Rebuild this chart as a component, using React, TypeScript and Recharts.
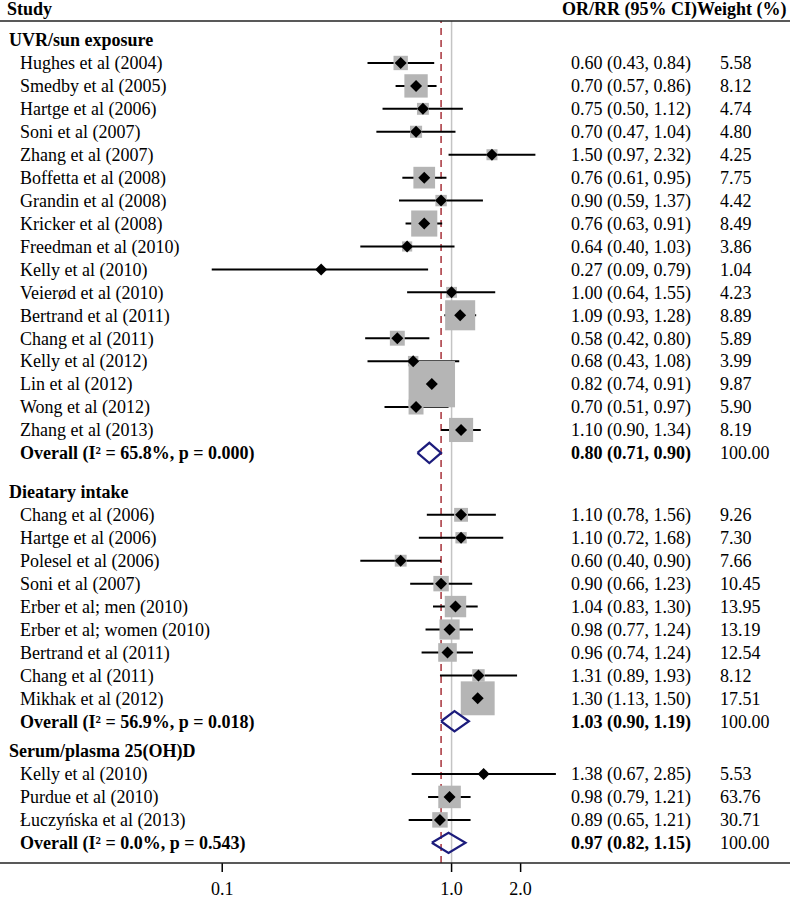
import React from "react";
import { ScatterChart, Scatter, XAxis, YAxis, ErrorBar, ReferenceLine } from "recharts";

// ---- data ----
const groupTitles = ["UVR/sun exposure", "Dieatary intake", "Serum/plasma 25(OH)D"];

const uvrStudies = [
  "Hughes et al (2004)",
  "Smedby et al (2005)",
  "Hartge et al (2006)",
  "Soni et al (2007)",
  "Zhang et al (2007)",
  "Boffetta et al (2008)",
  "Grandin et al (2008)",
  "Kricker et al (2008)",
  "Freedman et al (2010)",
  "Kelly et al (2010)",
  "Veierød et al (2010)",
  "Bertrand et al (2011)",
  "Chang et al (2011)",
  "Kelly et al (2012)",
  "Lin et al (2012)",
  "Wong et al (2012)",
  "Zhang et al (2013)",
];
const uvrOR = [0.6, 0.7, 0.75, 0.7, 1.5, 0.76, 0.9, 0.76, 0.64, 0.27, 1.0, 1.09, 0.58, 0.68, 0.82, 0.7, 1.1];
const uvrLow = [0.43, 0.57, 0.5, 0.47, 0.97, 0.61, 0.59, 0.63, 0.4, 0.09, 0.64, 0.93, 0.42, 0.43, 0.74, 0.51, 0.9];
const uvrHigh = [0.84, 0.86, 1.12, 1.04, 2.32, 0.95, 1.37, 0.91, 1.03, 0.79, 1.55, 1.28, 0.8, 1.08, 0.91, 0.97, 1.34];
const uvrWeight = [5.58, 8.12, 4.74, 4.8, 4.25, 7.75, 4.42, 8.49, 3.86, 1.04, 4.23, 8.89, 5.89, 3.99, 9.87, 5.9, 8.19];

const dietStudies = [
  "Chang et al (2006)",
  "Hartge et al (2006)",
  "Polesel et al (2006)",
  "Soni et al (2007)",
  "Erber et al; men (2010)",
  "Erber et al; women (2010)",
  "Bertrand et al (2011)",
  "Chang et al (2011)",
  "Mikhak et al (2012)",
];
const dietOR = [1.1, 1.1, 0.6, 0.9, 1.04, 0.98, 0.96, 1.31, 1.3];
const dietLow = [0.78, 0.72, 0.4, 0.66, 0.83, 0.77, 0.74, 0.89, 1.13];
const dietHigh = [1.56, 1.68, 0.9, 1.23, 1.3, 1.24, 1.24, 1.93, 1.5];
const dietWeight = [9.26, 7.3, 7.66, 10.45, 13.95, 13.19, 12.54, 8.12, 17.51];

const serumStudies = ["Kelly et al (2010)", "Purdue et al (2010)", "Łuczyńska et al (2013)"];
const serumOR = [1.38, 0.98, 0.89];
const serumLow = [0.67, 0.79, 0.65];
const serumHigh = [2.85, 1.21, 1.21];
const serumWeight = [5.53, 63.76, 30.71];

const overallLabels = [
  "Overall (I² = 65.8%, p = 0.000)",
  "Overall (I² = 56.9%, p = 0.018)",
  "Overall (I² = 0.0%, p = 0.543)",
];
const overallOR = [0.8, 1.03, 0.97];
const overallLow = [0.71, 0.9, 0.82];
const overallHigh = [0.9, 1.19, 1.15];
const overallWeight = [100, 100, 100];

const xTicks = [0.1, 1, 2];
const pooledEffect = 0.9;
const nullEffect = 1;

// ---- layout ----
const FONT = '"Liberation Serif", "Times New Roman", serif';
const FS = 18;
const GROUP_GAP = [0, 1.7, 1.3];
const Y_DOMAIN: [number, number] = [-0.83, 35.88];
const BOX_SCALE = 2.45;
const DIAMOND_H = 0.44;
const NAVY = "#1c1c7c";

type Row = {
  kind: "header" | "study" | "overall";
  label: string;
  pos: number;
  or?: number;
  lo?: number;
  hi?: number;
  weight?: number;
};

const groups = [
  { names: uvrStudies, or: uvrOR, lo: uvrLow, hi: uvrHigh, w: uvrWeight },
  { names: dietStudies, or: dietOR, lo: dietLow, hi: dietHigh, w: dietWeight },
  { names: serumStudies, or: serumOR, lo: serumLow, hi: serumHigh, w: serumWeight },
];

const rows: Row[] = [];
let cursor = 0;
groups.forEach((g, gi) => {
  cursor += GROUP_GAP[gi];
  rows.push({ kind: "header", label: groupTitles[gi], pos: cursor });
  g.names.forEach((name, i) => {
    cursor += 1;
    rows.push({ kind: "study", label: name, pos: cursor, or: g.or[i], lo: g.lo[i], hi: g.hi[i], weight: g.w[i] });
  });
  cursor += 1;
  rows.push({
    kind: "overall",
    label: overallLabels[gi],
    pos: cursor,
    or: overallOR[gi],
    lo: overallLow[gi],
    hi: overallHigh[gi],
    weight: overallWeight[gi],
  });
});

const rowTicks = rows.map((r) => r.pos);
const findRow = (v: number) => rows.find((r) => Math.abs(r.pos - v) < 1e-6);

const studyPoints = rows
  .filter((r) => r.kind === "study")
  .map((r) => ({
    x: r.or!,
    y: r.pos,
    err: [r.or! - r.lo!, r.hi! - r.or!],
    box: (BOX_SCALE * 3.92) / Math.log(r.hi! / r.lo!),
  }));

const overallDiamonds = rows
  .filter((r) => r.kind === "overall")
  .map((r) => [
    { x: r.lo!, y: r.pos },
    { x: r.or!, y: r.pos - DIAMOND_H },
    { x: r.hi!, y: r.pos },
    { x: r.or!, y: r.pos + DIAMOND_H },
    { x: r.lo!, y: r.pos },
  ]);

const fmt = (v: number) => v.toFixed(2);

const LeftTick = (props: any) => {
  const row = findRow(props.payload?.value);
  if (!row) return <g />;
  return (
    <text
      x={row.kind === "header" ? 9 : 20}
      y={props.y}
      dy="0.35em"
      fontFamily={FONT}
      fontSize={FS}
      fontWeight={row.kind === "study" ? 400 : 700}
      fill="#000"
    >
      {row.label}
    </text>
  );
};

const RightTick = (props: any) => {
  const row = findRow(props.payload?.value);
  if (!row || row.kind === "header") return <g />;
  return (
    <g>
      <text
        x={571}
        y={props.y}
        dy="0.35em"
        fontFamily={FONT}
        fontSize={FS}
        fontWeight={row.kind === "overall" ? 700 : 400}
        fill="#000"
      >
        {`${fmt(row.or!)} (${fmt(row.lo!)}, ${fmt(row.hi!)})`}
      </text>
      <text x={720} y={props.y} dy="0.35em" fontFamily={FONT} fontSize={FS} fill="#000">
        {fmt(row.weight!)}
      </text>
    </g>
  );
};

const BoxShape = (props: any) => {
  const s = props.payload.box;
  return <rect x={props.cx - s / 2} y={props.cy - s / 2} width={s} height={s} fill="#b5b5b5" />;
};

const PointShape = (props: any) => {
  const { cx, cy } = props;
  const h = 6;
  return <polygon points={`${cx - h},${cy} ${cx},${cy - h} ${cx + h},${cy} ${cx},${cy + h}`} fill="#000" />;
};

const Nothing = () => <g />;

export default function App() {
  return (
    <div style={{ position: "absolute", left: 0, top: 0, width: 800, height: 899, background: "#fff" }}>
      <ScatterChart width={800} height={899} margin={{ top: 21, right: 0, bottom: 0, left: 0 }}>
        <XAxis
          dataKey="x"
          type="number"
          scale="log"
          domain={[0.08, 2.97]}
          allowDataOverflow
          ticks={xTicks}
          tickFormatter={(v: number) => v.toFixed(1)}
          axisLine={false}
          tickLine={{ stroke: "#000", strokeWidth: 1.5 }}
          tickSize={9}
          tickMargin={10}
          height={36}
          tick={{ fill: "#000", fontSize: FS, fontFamily: FONT }}
        />
        <YAxis
          yAxisId="left"
          dataKey="y"
          type="number"
          domain={Y_DOMAIN}
          reversed
          allowDataOverflow
          ticks={rowTicks}
          interval={0}
          width={200}
          axisLine={false}
          tickLine={false}
          tick={<LeftTick />}
        />
        <YAxis
          yAxisId="right"
          orientation="right"
          dataKey="y"
          type="number"
          domain={Y_DOMAIN}
          reversed
          allowDataOverflow
          ticks={rowTicks}
          interval={0}
          width={240}
          axisLine={false}
          tickLine={false}
          tick={<RightTick />}
        />
        <ReferenceLine yAxisId="left" x={nullEffect} stroke="#c4c4c4" strokeWidth={1.5} />
        <ReferenceLine yAxisId="left" x={pooledEffect} stroke="#a8323a" strokeWidth={1.5} strokeDasharray="7 5" />
        <Scatter yAxisId="right" data={rows.map((r) => ({ x: 1, y: r.pos }))} shape={Nothing} isAnimationActive={false} />
        <Scatter yAxisId="left" data={studyPoints} shape={BoxShape} isAnimationActive={false} />
        <Scatter yAxisId="left" data={studyPoints} shape={PointShape} isAnimationActive={false}>
          <ErrorBar dataKey="err" direction="x" width={0} stroke="#000" strokeWidth={2} />
        </Scatter>
        {overallDiamonds.map((d, i) => (
          <Scatter
            key={i}
            yAxisId="left"
            data={d}
            shape={Nothing}
            line={{ stroke: NAVY, strokeWidth: 2.2 }}
            lineType="joint"
            isAnimationActive={false}
          />
        ))}
      </ScatterChart>
      <svg
        width={800}
        height={899}
        style={{ position: "absolute", left: 0, top: 0, pointerEvents: "none" }}
      >
        <text x={7} y={15} fontFamily={FONT} fontSize={FS} fontWeight={700} fill="#000">
          Study
        </text>
        <text x={562} y={15} fontFamily={FONT} fontSize={FS} fontWeight={700} fill="#000">
          OR/RR (95% CI)Weight (%)
        </text>
        <line x1={0} x2={790} y1={21} y2={21} stroke="#222" strokeWidth={1.5} />
        <line x1={0} x2={790} y1={863} y2={863} stroke="#222" strokeWidth={1.5} />
      </svg>
    </div>
  );
}
